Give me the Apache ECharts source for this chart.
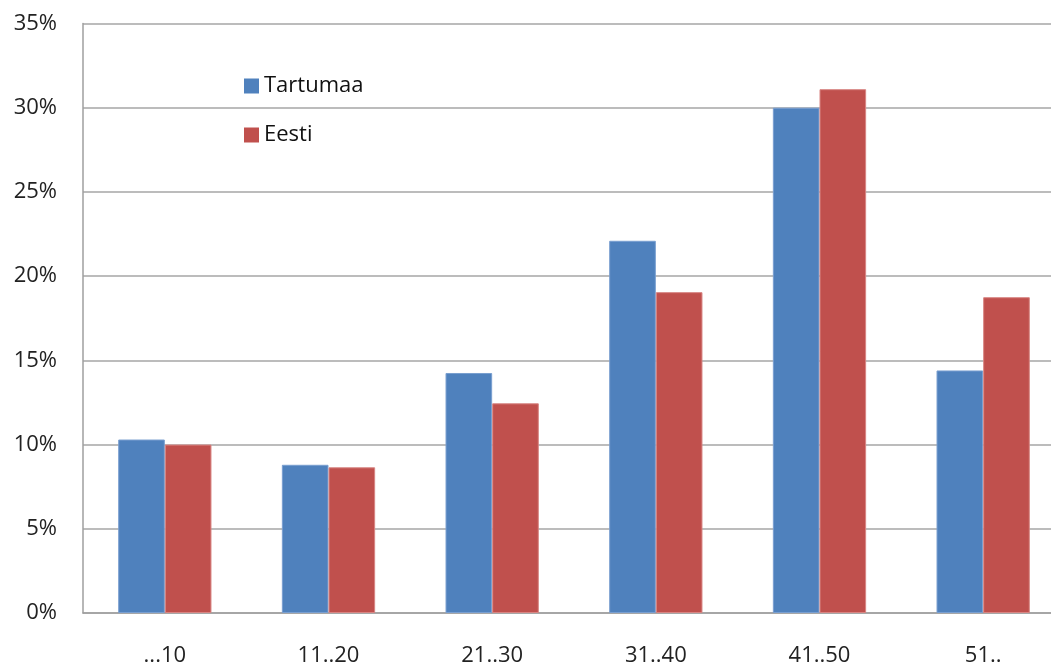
<!DOCTYPE html>
<html>
<head>
<meta charset="utf-8">
<script src="https://cdn.jsdelivr.net/npm/echarts@6/dist/echarts.min.js"></script>
<style>
html,body{margin:0;padding:0;background:#fff;overflow:hidden;width:1051px;height:671px;}
#chart{width:1070px;height:671px;}
</style>
</head>
<body>
<div id="chart"></div>
<script>
var categories = ['...10', '11..20', '21..30', '31..40', '41..50', '51..'];
var tartumaa = [10.3, 8.8, 14.25, 22.1, 30.0, 14.4];
var eesti = [10.0, 8.65, 12.45, 19.05, 31.1, 18.75];
var seriesNames = ['Tartumaa', 'Eesti'];

var chart = echarts.init(document.getElementById('chart'));
var font = 'Open Sans';
chart.setOption({
  animation: false,
  grid: {left: 83, right: 5, top: 23.5, bottom: 58, containLabel: false},
  legend: {
    orient: 'vertical', left: 239, top: 70, itemWidth: 15, itemHeight: 15,
    itemGap: 27, icon: 'rect',
    itemStyle: {borderWidth: 0},
    textStyle: {fontFamily: font, fontSize: 22, color: '#111'},
    data: seriesNames
  },
  xAxis: {
    type: 'category', data: categories,
    axisLine: {lineStyle: {color: '#9f9f9f', width: 1.5}},
    axisTick: {show: false},
    axisLabel: {margin: 32, fontFamily: font, fontSize: 22, color: '#222'}
  },
  yAxis: {
    type: 'value', min: 0, max: 35, interval: 5,
    axisLine: {show: true, lineStyle: {color: '#9f9f9f', width: 1.5}},
    axisTick: {show: false},
    splitLine: {lineStyle: {color: '#a6a6a6', width: 1.5}},
    axisLabel: {margin: 26, fontFamily: font, fontSize: 22, color: '#222', formatter: '{value}%'}
  },
  series: [
    {name: seriesNames[0], type: 'bar', data: tartumaa, barGap: '0%', barCategoryGap: '43%',
     itemStyle: {color: '#4F81BD', borderColor: '#7A9FD0', borderWidth: 1}},
    {name: seriesNames[1], type: 'bar', data: eesti,
     itemStyle: {color: '#C0504D', borderColor: '#D88583', borderWidth: 1}}
  ]
});
</script>
</body>
</html>
